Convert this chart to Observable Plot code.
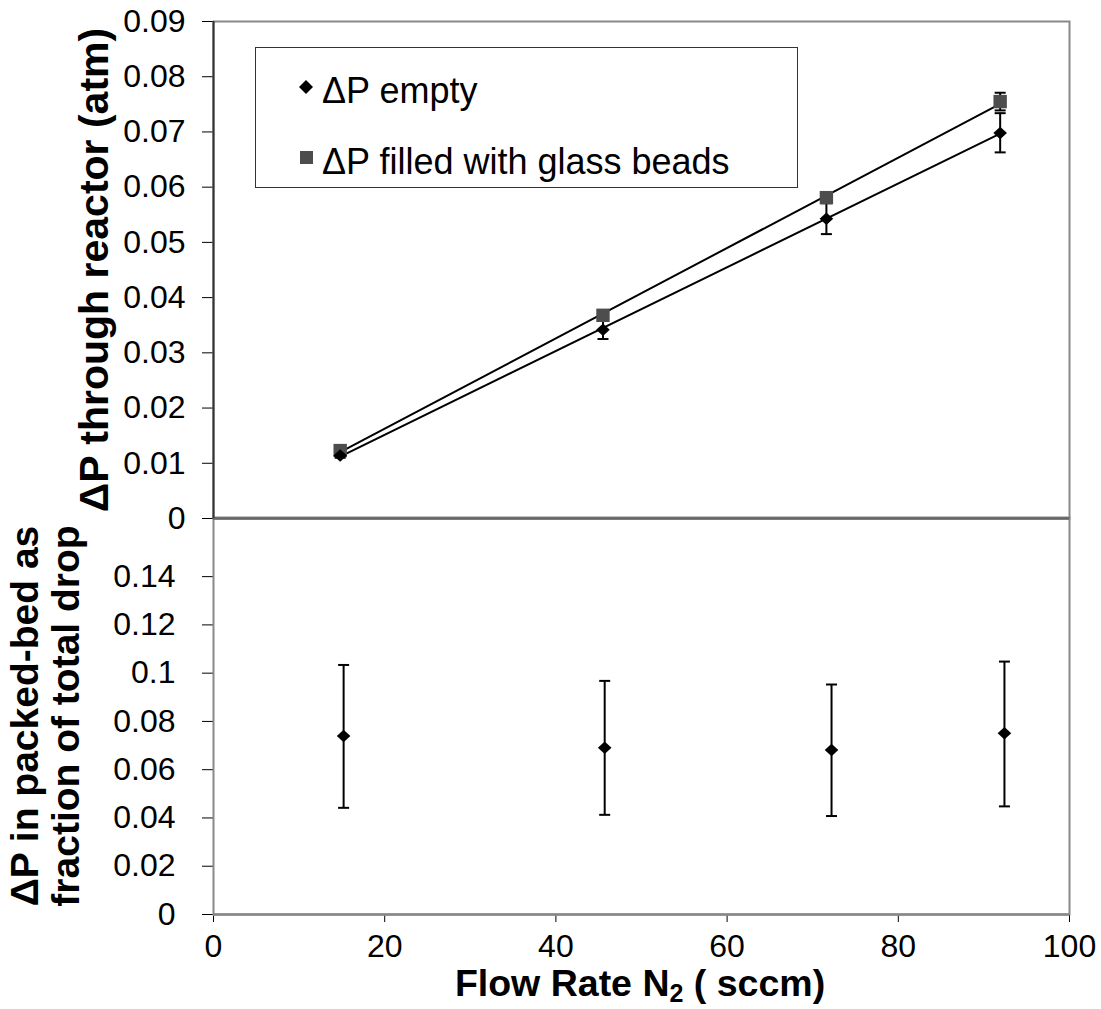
<!DOCTYPE html>
<html>
<head>
<meta charset="utf-8">
<script src="https://cdn.jsdelivr.net/npm/d3@7"></script>
<script src="https://cdn.jsdelivr.net/npm/@observablehq/plot@0.6"></script>
<style>
  body { margin: 0; background: white; }
  #wrap { position: relative; width: 1101px; height: 1009px; background: white; font-family: "Liberation Sans", Arial, sans-serif; overflow: hidden; }
  #wrap svg { position: absolute; left: 0; top: 0; }
  #legend { position: absolute; left: 255px; top: 47px; width: 541px; height: 139px; border: 1.5px solid #333; background: white; }
  .lg { position: absolute; font-size: 36px; line-height: 1; color: #000; white-space: nowrap; }
  #xtitle { position: absolute; left: 290px; width: 700px; top: 965px; height: 40px; text-align: center; font-weight: bold; font-size: 37.5px; line-height: 1; white-space: nowrap; }
  #xtitle .sub { font-size: 25px; position: relative; top: 6px; }
</style>
</head>
<body>
<div id="wrap">
  <div id="xtitle">Flow Rate N<span class="sub">2</span> ( sccm)</div>
</div>
<script>
// ---- data ----
const flowTop = [14.8, 45.5, 71.6, 91.9];
const dpEmpty   = [0.0114, 0.0342, 0.0543, 0.0698];
const dpEmptyLo = [0.0110, 0.0325, 0.0515, 0.0663];
const dpEmptyHi = [0.0118, 0.0359, 0.0571, 0.0734];
const dpBeads   = [0.0123, 0.0368, 0.0581, 0.0755];
const dpBeadsLo = [0.0120, 0.0362, 0.0575, 0.0739];
const dpBeadsHi = [0.0126, 0.0374, 0.0587, 0.0771];

const flowBottom = [15.2, 45.7, 72.2, 92.4];
const fraction   = [0.0740, 0.0691, 0.0682, 0.0751];
const fractionLo = [0.0442, 0.0413, 0.0408, 0.0448];
const fractionHi = [0.1034, 0.0968, 0.0953, 0.1048];

const xTicks = [0, 20, 40, 60, 80, 100];
const topYTicks = [0, 0.01, 0.02, 0.03, 0.04, 0.05, 0.06, 0.07, 0.08, 0.09];
const bottomYTicks = [0, 0.02, 0.04, 0.06, 0.08, 0.1, 0.12, 0.14];

const seriesNames = ["\u0394P empty", "\u0394P filled with glass beads"];
const topTitle = "\u0394P through reactor (atm)";
const bottomTitle = "\u0394P in packed-bed as\nfraction of total drop";

// ---- tables built from arrays ----
const emptyRows = flowTop.map((x, i) => ({x, y: dpEmpty[i], lo: dpEmptyLo[i], hi: dpEmptyHi[i]}));
const beadRows = flowTop.map((x, i) => ({x, y: dpBeads[i], lo: dpBeadsLo[i], hi: dpBeadsHi[i]}));
const fracRows = flowBottom.map((x, i) => ({x, y: fraction[i], lo: fractionLo[i], hi: fractionHi[i]}));

// ---- custom symbols ----
const diamondSym = {draw(ctx, size) { const r = Math.sqrt(size / Math.PI); const h = r * 0.92;
  ctx.moveTo(0, -h); ctx.lineTo(r, 0); ctx.lineTo(0, h); ctx.lineTo(-r, 0); ctx.closePath(); }};
const squareSym = {draw(ctx, size) { const r = Math.sqrt(size / Math.PI); ctx.rect(-r, -r, 2 * r, 2 * r); }};
const capSym = {draw(ctx, size) { const r = Math.sqrt(size / Math.PI); ctx.moveTo(-r, 0); ctx.lineTo(r, 0); }};

const font = "'Liberation Sans', Arial, sans-serif";
const fmt = d3.format("~g");

function errBars(data) {
  return [
    Plot.ruleX(data, {x: "x", y1: "lo", y2: "hi", stroke: "black", strokeWidth: 2}),
    Plot.dot(data, {x: "x", y: "lo", symbol: capSym, r: 5.5, fill: "none", stroke: "black", strokeWidth: 2}),
    Plot.dot(data, {x: "x", y: "hi", symbol: capSym, r: 5.5, fill: "none", stroke: "black", strokeWidth: 2})
  ];
}

const bottomChart = Plot.plot({
  width: 1101, height: 1009,
  marginLeft: 213, marginRight: 32, marginTop: 517, marginBottom: 95,
  style: {fontFamily: font, fontSize: "32px", background: "transparent", overflow: "visible"},
  x: {domain: [0, 100], ticks: xTicks, tickSize: 8, tickPadding: 12, tickFormat: fmt, label: null},
  y: {domain: [0, 0.1645], ticks: bottomYTicks, tickSize: 11, tickPadding: 27, tickFormat: fmt, label: null},
  marks: [
    Plot.frame({stroke: "#888", strokeWidth: 2}),
    Plot.ruleY([0], {stroke: "#888", strokeWidth: 2.5}),
    ...errBars(fracRows),
    Plot.dot(fracRows, {x: "x", y: "y", symbol: diamondSym, r: 6.8, fill: "black", stroke: "none"}),
    Plot.text([bottomTitle], {text: d => d, frameAnchor: "left", dx: -168, rotate: -90, textAnchor: "middle",
      fontSize: 39, fontWeight: "bold", lineHeight: 1.04, fill: "black"})
  ]
});

const topChart = Plot.plot({
  width: 1101, height: 530,
  marginLeft: 213, marginRight: 32, marginTop: 21, marginBottom: 12,
  style: {fontFamily: font, fontSize: "32px", background: "transparent", overflow: "visible"},
  x: {domain: [0, 100], axis: null},
  y: {domain: [0, 0.09], ticks: topYTicks, tickSize: 11, tickPadding: 17, tickFormat: fmt, label: null},
  marks: [
    Plot.frame({stroke: "#888", strokeWidth: 2}),
    Plot.ruleY([0], {stroke: "#666", strokeWidth: 2.5}),
    Plot.ruleX([0], {stroke: "#333", strokeWidth: 2}),
    Plot.linearRegressionY(emptyRows, {x: "x", y: "y", ci: 0, stroke: "black", strokeWidth: 2}),
    Plot.linearRegressionY(beadRows, {x: "x", y: "y", ci: 0, stroke: "black", strokeWidth: 2}),
    ...errBars(emptyRows),
    ...errBars(beadRows),
    Plot.dot(beadRows, {x: "x", y: "y", symbol: squareSym, r: 6.7, fill: "#4d4d4d", stroke: "none"}),
    Plot.dot(emptyRows, {x: "x", y: "y", symbol: diamondSym, r: 6.8, fill: "black", stroke: "none"}),
    Plot.text([topTitle], {text: d => d, frameAnchor: "left", dx: -119, rotate: -90, textAnchor: "middle",
      fontSize: 41, fontWeight: "bold", fill: "black"})
  ]
});

const wrap = document.getElementById("wrap");
wrap.appendChild(bottomChart);
wrap.appendChild(topChart);

// ---- legend ----
const legend = document.createElement("div");
legend.id = "legend";
legend.innerHTML = `
  <svg width="16" height="16" style="position:absolute;left:42px;top:31px"><path d="M8,1L15,8L8,15L1,8Z" fill="black"/></svg>
  <div class="lg" style="left:66px;top:25px">${seriesNames[0]}</div>
  <svg width="16" height="16" style="position:absolute;left:43px;top:102px"><rect x="1" y="1" width="13" height="13" fill="#4d4d4d"/></svg>
  <div class="lg" style="left:66px;top:96px">${seriesNames[1]}</div>`;
wrap.appendChild(legend);
</script>
</body>
</html>
